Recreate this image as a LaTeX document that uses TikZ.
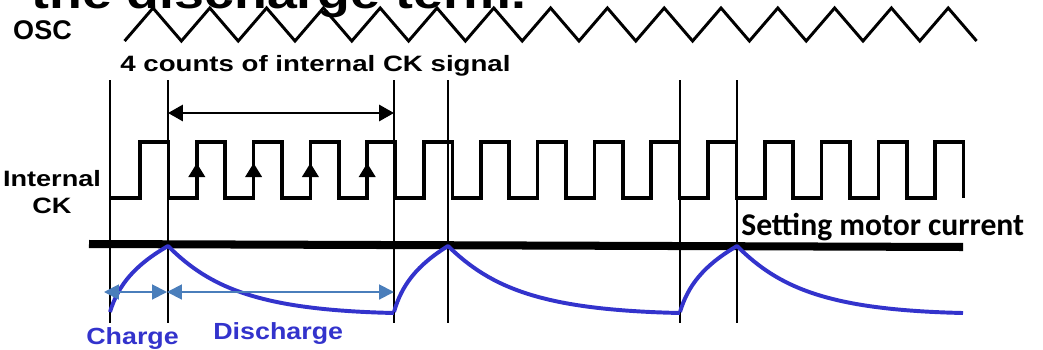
\documentclass[tikz,border=0pt]{standalone}
\usepackage{fontspec}
\setmainfont{Liberation Sans}
\newfontfamily\calibrifont{Carlito}
\usetikzlibrary{arrows.meta}
\definecolor{curveblue}{RGB}{51,51,204}
\definecolor{arrowblue}{RGB}{74,126,187}
\begin{document}
\begin{tikzpicture}[x=0.025cm, y=-0.025cm,
  lbl/.style={font=\bfseries\fontsize{15.8}{19.2}\selectfont, xscale=1.22, inner sep=0pt},
  bluelbl/.style={font=\bfseries\fontsize{16.6}{19.2}\selectfont, text=curveblue, xscale=1.15, inner sep=0pt},
  wave/.style={line width=2.1pt},
  ckwave/.style={line width=2.5pt},
  guide/.style={line width=1.1pt},
  current/.style={line width=2.8pt, curveblue, line join=round},
  span/.style={line width=1.8pt, {Triangle[length=0.37cm,width=0.4cm]}-{Triangle[length=0.37cm,width=0.4cm]}},
  bluespan/.style={line width=1.4pt, arrowblue, {Triangle[length=0.37cm,width=0.37cm]}-{Triangle[length=0.37cm,width=0.37cm]}},
  edgetip/.style={line width=2.5pt, -{Triangle[length=0.35cm,width=0.4cm]}}]

\useasboundingbox (0,0) rectangle (1043,349);
\clip (0,0) rectangle (1043,349);

% title line, cut off at the top
\node[lbl, font=\bfseries\fontsize{31.3}{36}\selectfont, anchor=base west] (title) at (31,8) {the discharge term.};

% labels
\node[inner sep=0pt, font=\bfseries\fontsize{19.2}{22}\selectfont] (osc) at (42.5,30.5) {OSC};
\node[lbl, align=center] (ck) at (52,192.5) {Internal\\CK};
\node[lbl, xscale=1.02, anchor=base west] (counts) at (120,71) {4 counts of internal CK signal};
\node[inner sep=0pt, anchor=base west, font=\calibrifont\bfseries\fontsize{22.5}{26}\selectfont] (setting) at (741,235) {Setting motor current};
\node[bluelbl, anchor=base west] (charge) at (86,344) {Charge};
\node[bluelbl, anchor=base west] (discharge) at (213,339) {Discharge};

% OSC triangle wave
\draw[wave] (124.6,41) \foreach \k in {0,...,14}{ -- ({153+56.8*\k},8) -- ({181.4+56.8*\k},41)};

% internal clock
\draw[ckwave] (110,198) \foreach \k in {0,...,14}{ -- ({140+56.8*\k},198) -- ({140+56.8*\k},142) -- ({168.4+56.8*\k},142) -- ({168.4+56.8*\k},198)};
\foreach \k in {1,...,4} \draw[edgetip] ({140+56.8*\k},190) -- ({140+56.8*\k},163);

% timing marks
\foreach \x in {110,168,394,448,680,737} \draw[guide] (\x,80) -- (\x,323);

% setting motor current level
\draw[line width=5.7pt] (89,244) -- (963,247);

% motor current
\foreach \s/\p/\e in {110/168/394, 394/448/680, 680/737/963}
  \draw[current] (\s,312) .. controls ({\s+0.14*(\p-\s)},285) and ({\s+0.43*(\p-\s)},265) .. (\p,246)
    .. controls ({\p+0.186*(\e-\p)},288) and ({\p+0.407*(\e-\p)},310) .. (\e,313);

% spans
\coordinate (countL) at (168,113);
\coordinate (countR) at (394,113);
\draw[span] (countL) -- (countR);
\coordinate (chargeL) at (104,292);
\coordinate (peakA) at (167,292);
\coordinate (dischargeR) at (394,292);
\draw[bluespan] (chargeL) -- (peakA);
\draw[bluespan] (peakA) -- (dischargeR);
\end{tikzpicture}
\end{document}
